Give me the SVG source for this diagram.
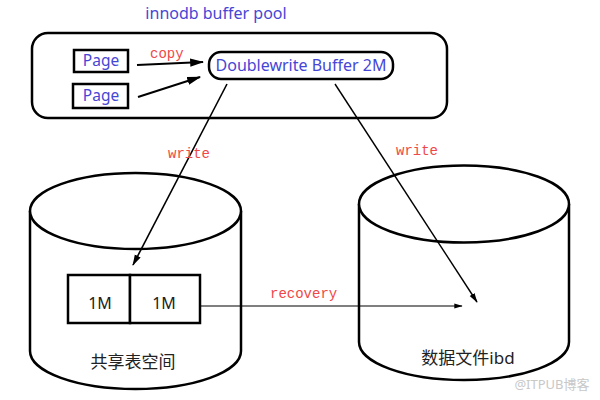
<svg xmlns="http://www.w3.org/2000/svg" width="600" height="400" viewBox="0 0 600 400">
<defs>
<style>
.blue{font-family:"Noto Sans","Liberation Sans","Noto Sans CJK SC",sans-serif;fill:#4646d6;}
.red{font-family:"Liberation Mono","DejaVu Sans Mono",monospace;fill:#f04848;font-size:14px;}
.dark{font-family:"Noto Sans","Noto Sans CJK SC",sans-serif;fill:#222;}
.box{fill:#fff;stroke:#000;stroke-width:2.5;}
.cyl{fill:#fff;stroke:#000;stroke-width:2.5;}
.conn{stroke:#000;fill:none;}
</style>
<marker id="ah2" viewBox="0 0 12 10" refX="11" refY="5" markerWidth="7" markerHeight="6" orient="auto" markerUnits="strokeWidth">
<path d="M0,1.5 L12,5 L0,8.5 z" fill="#000"/>
</marker>
</defs>
<rect width="600" height="400" fill="#fff"/>
<text class="blue" x="216" y="19" font-size="16" text-anchor="middle">innodb buffer pool</text>
<g id="buffer-pool">
<rect x="32" y="33" width="415" height="85" rx="16" class="box"/>
</g>
<g id="page1">
<rect x="74" y="50" width="54" height="22" class="box"/>
<text class="blue" x="101" y="66" font-size="15.5" text-anchor="middle">Page</text>
</g>
<g id="page2">
<rect x="73" y="84" width="55" height="24" class="box"/>
<text class="blue" x="101" y="101" font-size="15.5" text-anchor="middle">Page</text>
</g>
<g id="doublewrite">
<rect x="209" y="52" width="184" height="27" rx="12" class="box"/>
<text class="blue" x="301" y="71" font-size="16" text-anchor="middle">Doublewrite Buffer 2M</text>
</g>
<g id="shared-tablespace">
<path class="cyl" d="M30,211 L30,351 A105.5,38 0 0 0 241,351 L241,211"/>
<ellipse cx="135.5" cy="211" rx="105.5" ry="38" class="cyl"/>
<rect x="68" y="275" width="62" height="48" class="box"/>
<rect x="130" y="275" width="70" height="48" class="box"/>
<text class="dark" x="100" y="309" font-size="16" text-anchor="middle">1M</text>
<text class="dark" x="164" y="309" font-size="16" text-anchor="middle">1M</text>
<text class="dark" x="133" y="368" font-size="17" text-anchor="middle">共享表空间</text>
</g>
<g id="datafile">
<path class="cyl" d="M359,204 L359,342 A105,38 0 0 0 569,342 L569,204"/>
<ellipse cx="464" cy="204" rx="105" ry="38.5" class="cyl"/>
<text class="dark" x="468" y="364" font-size="17" text-anchor="middle">数据文件ibd</text>
</g>
<g id="connectors">
<line class="conn" x1="137" y1="65" x2="203" y2="62" stroke-width="2" marker-end="url(#ah2)"/>
<line class="conn" x1="138" y1="97" x2="200" y2="77" stroke-width="2" marker-end="url(#ah2)"/>
<line class="conn" x1="227" y1="84" x2="133" y2="265" stroke-width="1.6" marker-end="url(#ah2)"/>
<line class="conn" x1="335" y1="84" x2="477" y2="302" stroke-width="1.4" marker-end="url(#ah2)"/>
<line class="conn" x1="200" y1="306" x2="462" y2="306" stroke-width="1.2" marker-end="url(#ah2)"/>
</g>
<text class="red" x="150" y="58" font-size="13">copy</text>
<text class="red" x="168" y="158">write</text>
<text class="red" x="396" y="155">write</text>
<text class="red" x="270" y="298">recovery</text>
<text x="552" y="389" font-size="13" text-anchor="middle" fill="#c8c8c8" font-family="'Noto Sans','Noto Sans CJK SC',sans-serif">@ITPUB博客</text>
</svg>
